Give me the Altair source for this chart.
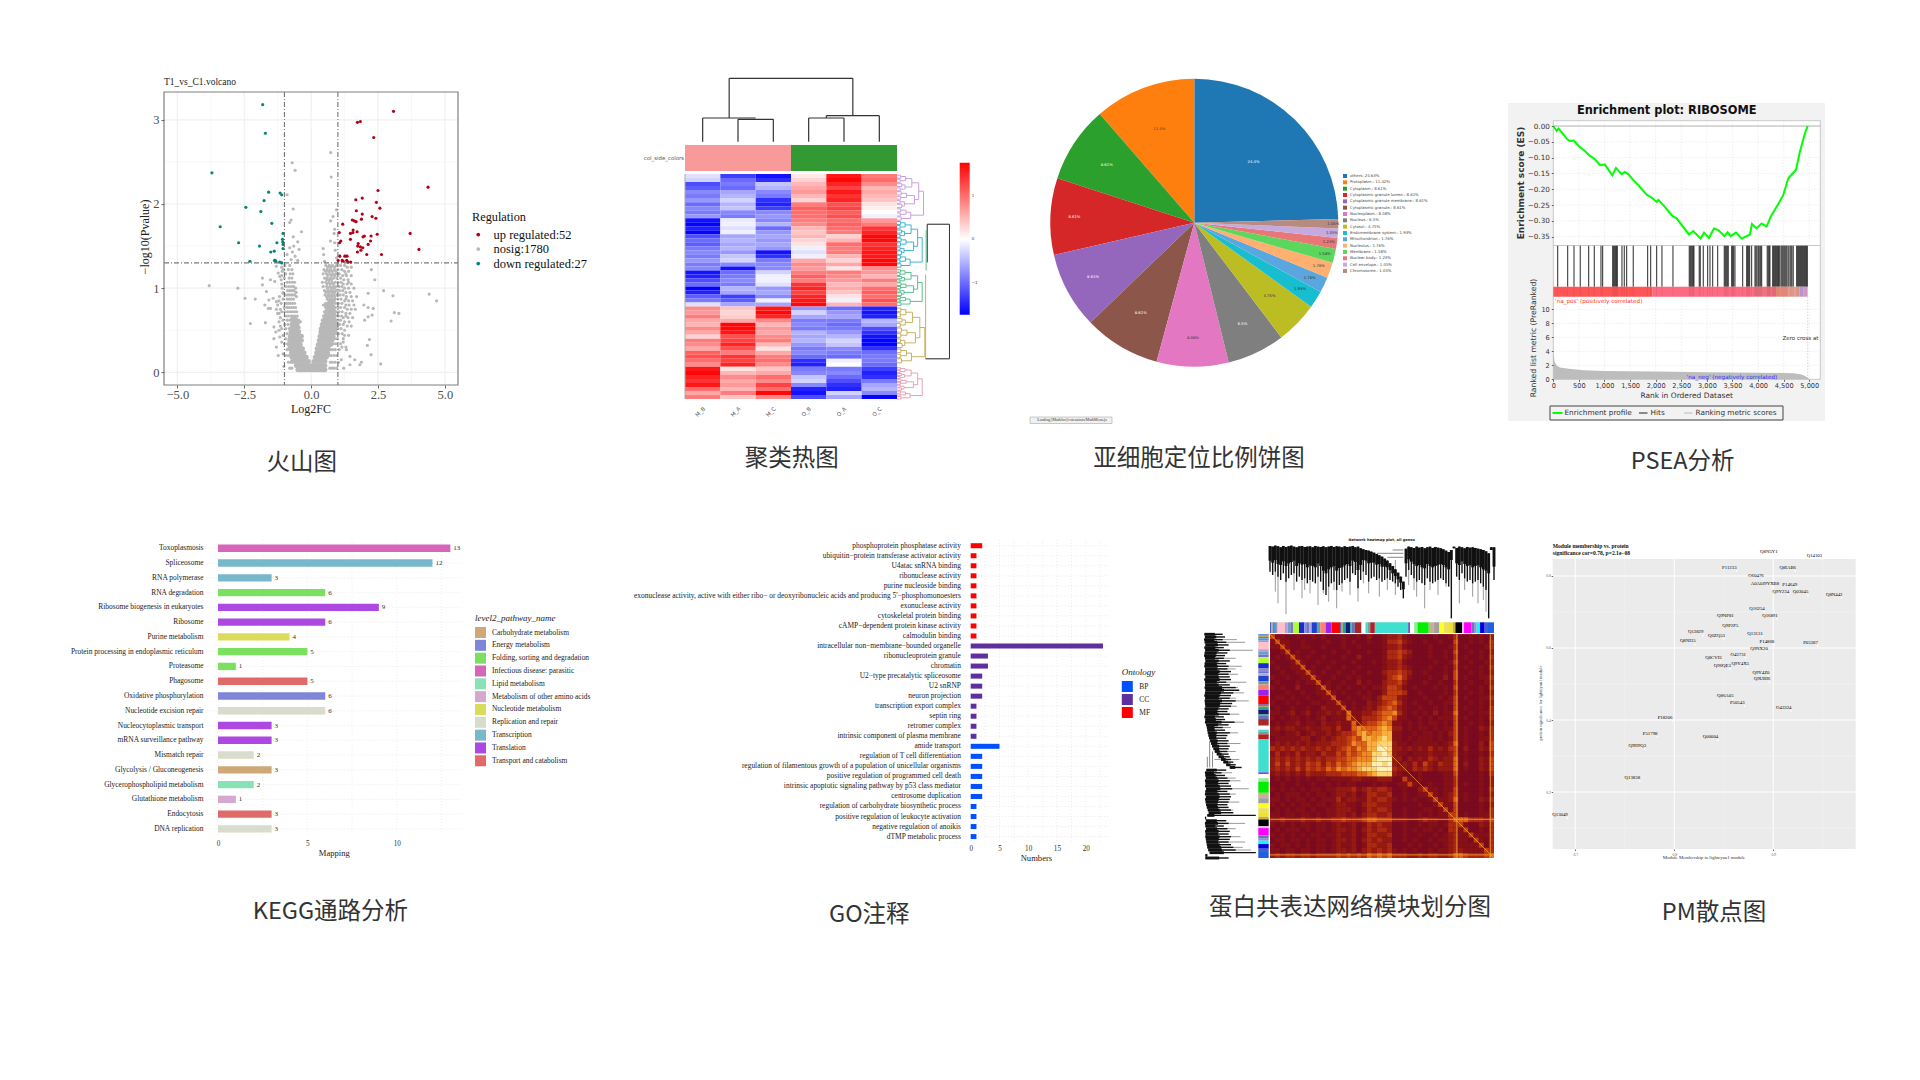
import altair as alt
import pandas as pd

W, H = 1900, 1060
SERIF, SANS, CJK = "Liberation Serif", "DejaVu Sans", "Noto Sans CJK SC"
ONE = alt.Data(values=[{"a": 1}])

# ---------- volcano ----------
up_x = [3.08,1.73,1.84,2.34,4.37,2.50,1.91,1.67,2.44,2.57,1.69,1.91,2.28,2.42,1.88,1.54,1.61,1.68,1.18,1.05,1.72,1.57,1.56,1.47,2.47,3.70,1.94,1.99,2.24,1.47,1.11,1.06,2.22,2.13,1.76,1.74,1.84,1.93,1.86,1.73,4.03,2.63,2.08,1.07,1.26,1.34,1.01,1.16,1.33,1.38,1.48,1.20]
up_y = [3.10,2.97,2.98,2.79,2.20,2.16,2.07,2.05,2.02,1.95,1.92,1.88,1.85,1.83,1.82,1.81,1.80,1.79,1.76,1.66,1.67,1.69,1.66,1.65,1.64,1.65,1.61,1.62,1.62,1.58,1.56,1.54,1.56,1.52,1.53,1.50,1.49,1.48,1.45,1.43,1.46,1.40,1.40,1.38,1.38,1.38,1.33,1.33,1.33,1.31,1.31,1.32]
down_x = [-1.81,-1.71,-3.71,-1.59,-1.16,-1.10,-1.76,-2.44,-1.88,-1.47,-3.40,-1.05,-1.07,-2.71,-1.28,-1.93,-1.05,-1.05,-1.51,-1.38,-2.29,-1.37,-1.32,-1.17,-1.34,-1.06,-1.10]
down_y = [3.18,2.84,2.37,2.14,2.13,2.11,2.04,1.96,1.91,1.77,1.73,1.65,1.58,1.54,1.54,1.50,1.52,1.47,1.43,1.44,1.32,1.33,1.32,1.31,1.33,1.55,1.30]
sparse_x = [.73,-.71,-.60,.75,-.90,-.67,.95,.82,.73,-.75,-.80,-.36,.88,.86,.72,.88,-.67,-.5,-.65,-.8,-.45,-.7,-.6,-.5,-.75,-.9,.45,.47,.5,.9,.95,-3.81,-2.74,-2.47,-2.09,-2.27,-1.71,2.71,3.06,4.41,4.69,3.11,3.28,2.99,2.6,2.24,2.1,2.18,2.38,2.25,2.13,1.97,2.13,2.32,2.28,2.13,2.0,1.82,1.88,1.63,1.45,1.32,1.45,1.13,1.22,-1.82,-1.82,-1.52,-1.67,-1.58,-1.73,-1.6,-1.52,-1.42,-1.3,-1.39,-1.32,-1.39,-1.3,-1.23,-1.05,-1.02,-1.17,-1.2,-1.05,-1.17,-1.3,-1.05,-1.36,-1.23]
sparse_y = [2.61,2.49,2.40,2.32,2.11,1.94,1.93,1.85,1.80,1.81,1.78,1.67,1.70,1.65,1.56,1.54,1.61,1.55,1.5,1.48,1.46,1.43,1.38,1.33,1.34,1.4,1.47,1.40,1.32,1.45,1.36,1.03,1.0,.88,.87,.58,.59,.97,.91,.93,.85,.71,.70,.61,.1,.21,.32,.39,1.1,1.22,.94,.8,.77,.76,.68,.66,.62,.09,.12,.15,.19,.27,.09,.15,.05,1.12,1.04,1.1,.96,.86,.8,.76,.76,.88,.84,.54,.48,.4,.3,.2,.22,.07,.42,.7,.94,1.14,1.26,1.22,1.08,1.18]
arm_rows = {
.05:[-.8,-.72,.7,.78,.85,.95],.12:[-.85,-.75,.72,.8,.9,1.02],.2:[-.95,-.85,-.75,-.68,.68,.75,.85,.95],
.27:[-.9,-.8,-.7,.72,.8,.9,1.05],.34:[-1.0,-.88,-.76,-.7,.74,.84,.92,1.1],.4:[-.95,-.82,-.72,-.68,.8,.88,.98,1.2],
.46:[-.9,-.78,-.7,-.64,.78,.86,.94,1.02,1.16],.52:[-1.1,-.95,-.82,-.72,-.62,-.55,.34,.82,.9,1.0,1.12],
.57:[-.98,-.86,-.74,-.66,-.58,-.5,.38,.8,.88,.96,1.06,1.2],.62:[-1.05,-.9,-.8,-.7,-.62,-.54,-.46,.42,.8,.9,1.0,1.1],
.67:[-.95,-.85,-.75,-.68,-.6,-.52,.46,.76,.84,.92,1.02,1.14,1.3],.72:[-1.1,-.98,-.88,-.78,-.7,-.62,-.54,.5,.58,.78,.86,.94,1.04,1.16],
.77:[-1.0,-.9,-.82,-.74,-.66,-.58,.54,.62,.7,.8,.9,1.0,1.1,1.25],.82:[-1.12,-.94,-.86,-.78,-.7,-.62,.55,.63,.72,.82,.92,1.02,1.15],
.87:[-1.05,-.9,-.82,-.74,-.66,.6,.7,.8,.9,1.0,1.12,1.3],.92:[-.96,-.86,-.78,-.7,-.62,.52,.64,.74,.84,.96,1.08,1.2],
.97:[-.88,-.8,-.72,-.64,.5,.62,.72,.82,.94,1.06,1.18],1.02:[-.95,-.84,-.74,-.66,.45,.58,.7,.82,.92,1.04,1.15],
1.07:[-.9,-.8,-.7,-.62,.42,.55,.66,.78,.9,1.0,1.12,1.4],1.12:[-1.0,-.82,-.72,.5,.6,.72,.84,.96,1.1],
1.17:[-.95,-.78,-.68,.45,.58,.7,.82,.94,1.05,1.3],1.22:[-1.02,-.85,-.72,.48,.6,.72,.86,1.0,1.15],1.27:[-.98,-.8,.55,.68,.8,.95,1.1,1.25]}
arm_rows2 = {
.3:[1.15,1.3],.36:[1.2,-1.1],.44:[1.25,1.4,-1.05],.5:[1.25,-1.2],.55:[1.35,1.5,-1.15],.6:[1.25,1.42,-1.2,.55,.62,.7,-.4],
.65:[1.2,1.38,1.55,-1.15,.55,.62,.68],.7:[1.3,1.45,-1.25,.66,.72],.75:[1.35,1.5,1.65,-1.15,-1.3,.66,.74],.8:[1.3,1.42,1.6,-1.25,.46,.52,.6,.68,.75],
.85:[1.25,1.4,1.55,-1.2,.66,.76,.86],.9:[1.32,1.5,1.7,-1.18,-.55,.58,.68,.78,.88],.95:[1.3,1.45,-1.05,-.56,.56,.66,.78,.88],1.0:[1.25,1.4,1.6,-1.08,-.58,.62,.76,.88],
1.05:[1.2,1.35,1.5,-1.1,.6,.72,.84],1.1:[1.22,1.38,-1.12,.58,.66,.76],1.15:[1.18,1.32,1.5,-1.1,.62,.76,.88],1.2:[1.25,1.4,-1.08,.54,.66,.78,.92],1.25:[1.35,1.5,-1.1,.62,.74,.88]}
core_rows = {
.03:[-.5,-.44,-.38,-.32,-.26,-.2,-.14,-.08,-.02,.04,.1,.16,.22,.28,.34,.4,.46,.52],
.08:[-.56,-.5,-.44,-.38,-.32,-.26,-.2,-.14,-.08,-.02,.04,.1,.16,.22,.28,.34,.4,.46,.52],
.13:[-.7,-.64,-.58,-.52,-.46,-.4,-.34,-.28,-.22,-.16,-.1,.1,.16,.22,.28,.34,.4,.46,.52],
.18:[-.72,-.66,-.6,-.54,-.48,-.42,-.36,-.3,-.24,-.18,.15,.21,.27,.33,.39,.45,.51,.57],
.23:[-.74,-.68,-.62,-.56,-.5,-.44,-.38,-.32,-.26,.2,.26,.32,.38,.44,.5,.56,.62],
.28:[-.8,-.74,-.68,-.62,-.56,-.5,-.44,-.38,-.32,.22,.28,.34,.4,.46,.52,.58,.64],
.33:[-.82,-.76,-.7,-.64,-.58,-.52,-.46,-.4,.26,.32,.38,.44,.5,.56,.62,.68,.74],
.38:[-.8,-.74,-.68,-.62,-.56,-.5,-.44,-.36,.3,.36,.42,.48,.54,.6,.66,.72,.78],
.43:[-.78,-.72,-.66,-.6,-.54,-.48,-.42,-.36,.33,.39,.45,.51,.57,.63,.7,.76,.82],
.48:[-.76,-.7,-.64,-.58,-.52,-.46,.36,.42,.48,.54,.6,.66,.72,.78,.84,.9],
.53:[-.72,-.66,-.6,-.54,-.48,.4,.46,.52,.58,.64,.7,.76,.82,.88,.94],
.58:[-.7,-.64,-.58,-.52,.44,.5,.56,.62,.68,.74,.8,.86,.92],
.63:[-.7,-.64,-.58,.5,.56,.62,.68,.74,.8,.86],.68:[.56,.62,.68,.74,.8,.86],.73:[.6,.66,.72,.78,.84],.78:[.64,.7,.76,.82],.83:[.72,.78]}
reg_names = ["up regulated:52", "nosig:1780", "down regulated:27"]
reg_colors = ["#b2001a", "#b8b8b8", "#00897b"]

# ---------- clustered heatmap ----------
heat_cols = ["M_B","M_A","M_C","O_B","O_A","O_C"]
heat_vals = [
[-.2,-.3,-1.2,-1.1,-.8,-.9,-.7,-1.0,-.8,-.9,-.7,-1.6,-1.7,-1.5,-1.7,-1.2,-1.0,-1.1,-.9,-.8,-.9,-.7,-.9,-.8,-1.6,-1.5,-1.2,-1.0,-1.7,-1.5,-1.1,-.9,-.2,
 .8,.7,.9,.6,.5,.8,.6,.3,.9,.8,.6,1.1,1.2,1.0,.8,1.6,1.7,1.5,1.4,1.6,1.0,.6,.9],
[-1.3,-1.0,-.9,-1.0,-.6,-.5,-.3,-.5,-.4,-.8,-.9,-.15,-.1,-.2,-.1,-.6,-.5,-.6,-.5,-.7,-.4,-.3,-.8,-1.6,-1.0,-.9,-.8,-.9,-.5,-.6,-1.3,-1.1,-.6,
 .4,.3,.35,.6,1.7,1.7,1.6,1.2,1.3,1.5,1.2,.9,1.4,1.3,1.5,.2,.5,.8,.6,.7,.5,.9,.4],
[-1.6,-1.4,-.4,-.5,-.8,-.9,-1.4,-1.5,-1.3,-.8,-.7,-.8,-.5,-1.0,-.7,-.6,-.7,-.6,-.7,-1.6,-1.4,-.9,-.8,-.8,-.3,-.1,-.1,-.2,-.7,-.6,-.8,-.1,-.6,
 1.6,1.7,1.5,.8,.5,.7,.6,.8,.9,.5,.2,.6,.9,1.0,.8,.4,.6,1.0,.8,1.3,1.0,1.7,.8],
[.15,.3,.5,.6,.7,.5,.3,.9,1.1,1.0,1.0,.9,.8,.5,.4,.5,.3,.2,-.1,-.2,-.1,.6,.8,.7,.9,1.1,.9,1.4,1.5,1.3,1.5,1.6,1.7,
 -.7,-.3,-.6,-.9,-.8,-.9,-.5,-.6,-.5,-.7,-.9,-.8,-1.0,-1.4,-1.5,-.9,-.8,-.4,-.3,-.8,-1.5,-1.6,-1.2],
[1.6,1.7,1.5,1.3,1.6,1.4,1.5,1.2,1.3,1.1,1.2,1.0,1.1,1.0,.9,.3,.5,1.0,.9,.9,.5,.3,.6,.2,.9,.8,.7,.5,.6,.4,.2,-.1,.5,
 -1.0,-.7,-.6,-.9,-1.0,-.9,-.7,-.5,-.3,-.4,-.8,-.9,-1.0,-.1,.0,-.9,-.8,-1.0,-1.2,-1.4,-1.5,-.3,-.6],
[.9,1.0,.8,.5,.6,.5,.4,.2,.1,.0,-.1,.7,.9,1.4,1.5,1.7,1.7,1.4,1.5,1.6,1.6,1.7,1.7,.8,.7,.5,.9,.6,1.0,1.1,1.0,1.2,1.0,
 -1.5,-1.6,-1.5,-.5,-.6,-1.2,-1.4,-1.6,-1.7,-1.7,-1.4,-1.0,-.9,-.9,-1.0,-1.3,-1.5,-1.4,-.9,-.6,-.5,-.8,-1.7]]
top_tree = [(1.25,4.75,100,100),(1.25,1.25,37.4,100),(4.75,4.75,41,100),(.5,2.0,37.4,37.4),(.5,.5,0,37.4),(1.5,2.5,35.3,35.3),(1.5,1.5,0,35.3),(2.5,2.5,0,35.3),
            (4.0,5.5,41,41),(5.5,5.5,0,41),(3.5,4.5,37.4,37.4),(3.5,3.5,0,37.4),(4.5,4.5,0,37.4),(4.0,4.0,37.4,41)]
bracket_pat = [(0.3,1.0,7,0,0),(1.2,2.0,6,0,0),(2.3,3.0,9,0,0),(3.3,4.0,6,0,0),(4.2,5.0,8,0,0),(5.3,6.0,7,0,0),(6.3,7.0,6,0,0),(7.2,8.0,9,0,0),(8.3,9.0,7,0,0),(9.3,10.0,6,0,0),(10.2,11.0,8,0,0),
 (0.6,1.6,16,7,6),(2.6,3.6,15,9,6),(4.6,5.6,18,8,7),(6.6,7.6,14,6,9),(8.6,9.6,17,7,6),
 (1.1,3.1,28,16,15),(5.1,7.1,33,18,14),(9.1,10.6,26,17,8),(2.1,6.1,41,28,33),(4.1,9.8,50,41,26)]
row_clusters = [("#c9a0e0",0,11.5,1.0),("#40b5d0",11.5,23.2,.95),("#5cc090",23.6,32.7,.95),("#c8b060",33,47,1.05),("#e8a0b8",48,56,.95)]
row_links = [(12.5,22,57,"#222222"),(12.5,46,99,"#333333"),(25,46,54,"#c8b060"),(14,24,55,"#5cc090")]
row_caps = [(12.5,99,57,"#222222"),(46,99,54,"#222222")]

# ---------- pie ----------
pie_names = ["others","Protoplasm.","Cytoplasm.","Cytoplasmic granule lumen.","Cytoplasmic granule membrane.","Cytoplasmic granule.","Nucleoplasm.","Nucleus.","Cytosol.","Endomembrane system.","Mitochondrion.","Nucleolus.","Membrane.","Nuclear body.","Cell envelope.","Chromosome."]
pie_vals = [24.63,11.42,8.61,8.61,8.61,8.61,8.08,6.5,4.75,1.93,1.76,1.76,1.58,1.23,1.05,1.05]
pie_colors = ["#1f77b4","#ff7f0e","#2ca02c","#d62728","#9467bd","#8c564b","#e377c2","#7f7f7f","#bcbd22","#17becf","#5aa7e0","#ffb070","#5cd65c","#e87878","#c5aadf","#b88a80"]
pie_slice_order = [0,15,14,13,12,11,10,9,8,7,6,5,4,3,2,1]
pie_text = ["24.4%","11.4%","8.61%","8.61%","8.61%","8.61%","8.08%","6.5%","4.75%","1.93%","1.76%","1.76%","1.58%","1.23%","1.05%","1.05%"]
pie_text_r = [85,100,105,120,115,105,115,112,105,125,128,132,134,136,138,139]
pie_text_c = ["#ffffff","#444444","#ffffff","#ffffff","#ffffff","#ffffff","#333333","#ffffff","#333333","#333333","#333333","#333333","#333333","#333333","#333333","#333333"]

# ---------- GSEA ----------
es_rank = [0,65,104,163,273,325,397,521,618,697,814,911,1009,1152,1224,1335,1400,1465,1562,1660,1823,1920,2018,2051,2148,2331,2409,2650,2734,2877,2943,3040,3138,3222,3340,3405,3463,3567,3678,3776,3841,3880,3971,4069,4166,4251,4401,4492,4590,4739,4817,4915,4967]
es_val = [0,-.015,-.008,-.02,-.042,-.047,-.046,-.067,-.079,-.092,-.105,-.123,-.122,-.156,-.133,-.152,-.145,-.152,-.171,-.187,-.217,-.226,-.24,-.234,-.25,-.285,-.292,-.343,-.332,-.356,-.337,-.354,-.324,-.329,-.348,-.336,-.348,-.337,-.356,-.348,-.343,-.31,-.324,-.308,-.318,-.285,-.245,-.218,-.165,-.139,-.081,-.023,0]
hits = [85,280,404,527,690,801,931,963,1159,1178,1198,1217,1237,1250,1341,1387,1432,1562,1842,1901,2018,2122,2337,2656,2676,2695,2715,2734,2747,2851,2871,2930,3014,3060,3112,3210,3340,3360,3379,3399,3418,3483,3502,3522,3548,3698,3776,3795,3815,3834,3873,3939,3958,3978,4004,4023,4049,4069,4179,4199,4218,4231,4284,4303,4323,4342,4362,4381,4401,4414,4446,4466,4485,4505,4524,4544,4563,4590,4622,4642,4661,4687,4752,4772,4791,4811,4830,4850,4869,4889,4908,4928,4948,4961]
strip_start = [0,1930,3900,4350,4600,4810,4890]
strip_end = [1930,3900,4350,4600,4810,4890,4967]
strip_color = ["#ff5555","#ff6a80","#f0707f","#f09080","#e8a090","#c0a0e0","#e0a0d0"]
metric_rank = [0,25,60,130,300,600,1000,2000,3000,4000,4500,4700,4850,4960,5000]
metric_val = [4.2,2.5,2.0,1.7,1.5,1.3,1.2,1.1,1.0,.95,.9,.85,.7,.3,0]

# ---------- KEGG ----------
kegg_names = ["Toxoplasmosis","Spliceosome","RNA polymerase","RNA degradation","Ribosome biogenesis in eukaryotes","Ribosome","Purine metabolism","Protein processing in endoplasmic reticulum","Proteasome","Phagosome","Oxidative phosphorylation","Nucleotide excision repair","Nucleocytoplasmic transport","mRNA surveillance pathway","Mismatch repair","Glycolysis / Gluconeogenesis","Glycerophospholipid metabolism","Glutathione metabolism","Endocytosis","DNA replication"]
kegg_vals = [13,12,3,6,9,6,4,5,1,5,6,6,3,3,2,3,2,1,3,3]
kegg_group = ["Infectious disease: parasitic","Transcription","Transcription","Folding, sorting and degradation","Translation","Translation","Nucleotide metabolism","Folding, sorting and degradation","Folding, sorting and degradation","Transport and catabolism","Energy metabolism","Replication and repair","Translation","Translation","Replication and repair","Carbohydrate metabolism","Lipid metabolism","Metabolism of other amino acids","Transport and catabolism","Replication and repair"]
kegg_domain = ["Carbohydrate metabolism","Energy metabolism","Folding, sorting and degradation","Infectious disease: parasitic","Lipid metabolism","Metabolism of other amino acids","Nucleotide metabolism","Replication and repair","Transcription","Translation","Transport and catabolism"]
kegg_colors = ["#d0a878","#7f85d9","#7be05f","#d566ba","#88e2b4","#d3a9cf","#dcdc5b","#d8dccc","#78b8cb","#ad49e0","#df6a68"]

# ---------- GO ----------
go_names = ["phosphoprotein phosphatase activity","ubiquitin\u2212protein transferase activator activity","U4atac snRNA binding","ribonuclease activity","purine nucleoside binding","exonuclease activity, active with either ribo\u2212 or deoxyribonucleic acids and producing 5'\u2212phosphomonoesters","exonuclease activity","cytoskeletal protein binding","cAMP\u2212dependent protein kinase activity","calmodulin binding","intracellular non\u2212membrane\u2212bounded organelle","ribonucleoprotein granule","chromatin","U2\u2212type precatalytic spliceosome","U2 snRNP","neuron projection","transcription export complex","septin ring","retromer complex","intrinsic component of plasma membrane","amide transport","regulation of T cell differentiation","regulation of filamentous growth of a population of unicellular organisms","positive regulation of programmed cell death","intrinsic apoptotic signaling pathway by p53 class mediator","centrosome duplication","regulation of carbohydrate biosynthetic process","positive regulation of leukocyte activation","negative regulation of anoikis","dTMP metabolic process"]
go_vals = [2,1,1,1,1,1,1,1,1,1,23,3,3,2,2,2,1,1,1,1,5,2,2,2,2,2,1,1,1,1]
go_group = ["MF"]*10 + ["CC"]*10 + ["BP"]*10
go_domain = ["BP","CC","MF"]
go_colors = ["#0050ff","#5e2f9e","#ff0000"]

# ---------- WGCNA ----------
mod_colors = ["#3a5fcd","#c8a050","#7b68ee","#40a0d0","#8a9ac8","#ffc0cb","#b0a0d0","#6aa0c8","#7a70c8","#adff2f","#1a2ad0","#8888cc","#6a70c8","#aaaadd","#2040d0","#60a0a0","#fa8072","#a020f0","#ff0000","#2a50c0","#c0a060","#20a0a0","#191970","#20a0b0","#6a70b0","#a82828","#ffffff","#40d8c8","#70a0a0","#b22222","#40e0d0","#6a5acd","#ffffff","#90ee90","#00ee00","#c8b090","#a0a0a0","#ffff20","#e8e060","#f0e030","#c0b040","#000000","#ddbbee","#ff00ff","#7070c0","#9a90d0","#00ffff","#0000dd","#4060d0","#2060e0"]
mod_widths = [4,4,4,6,5,22,8,8,8,18,16,8,6,8,16,10,16,18,26,4,4,8,14,4,10,20,12,6,8,14,100,6,12,10,34,16,16,14,12,14,8,20,6,22,8,8,10,14,10,18]
dg_top = [18,20,17,19,22,18,21,19,17,20,22,19,18,21,20,19,22,18,20,21,19,22,20,18,21,19,20,22,19,21,20,18,22,20,25,28,30,32,35,38,42,46,50,56,62,70,78,88,98,110,125,26,20,22,24,20,23,21,25,22,20,24,21,23,25,28,32,36,30,20,24,20,22,25,21,23,22,24,26,28,30,34,40,22,22]
dg_mid = [62,68,60,72,75,64,78,70,66,62,78,70,74,72,82,76,78,82,70,78,92,100,88,82,78,92,84,82,76,72,78,62,66,90,
 75,60,62,70,68,68,74,72,80,80,82,90,100,108,118,128,148,
 70,58,65,72,78,75,82,85,72,78,82,78,75,72,75,82,88,60,25,
 70,75,64,72,78,75,82,78,75,82,88,92,100,30,80]
dg_black = [95,105,95,110,120,100,125,115,105,100,125,110,120,115,130,120,125,130,110,125,150,165,140,130,125,150,135,130,120,115,125,100,105,145,120,95,105,125,115,110,120,115,125,120,115,120,125,130,140,150,175,110,90,105,115,125,120,130,135,115,125,130,125,120,115,120,130,140,235,25,110,120,100,115,125,120,130,125,120,130,140,150,235,30,120]
dg_tail_i = [2,3,6,9,12,13,15,18,20,22,24,25,27,30,33,35,37,41,44,47,52,54,55,58,60,63,66,71,73,76,78,80,81]
dg_tail_end = [155,190,222,150,175,150,160,195,160,185,150,205,155,165,185,130,160,170,150,165,135,150,170,205,150,165,140,190,150,170,190,180,215]
dg_link_from = [40,44,46]
dg_link_to = [50,50,50]
dg_link_depth = [40,52,30]
tom_rows = [
"4110010010 1000100102 0012231000 0010013001 0102","1411001000 0100101001 0013342100 1001004001 0103",
"1141001100 1000100100 0012231000 0100013010 0013","0014010010 0010010001 0013343200 0100104001 0102",
"0101410100 1000100200 0013342100 0100103010 0103","1000141001 0010001000 1012231000 0010014001 0012",
"0100114010 0100100100 0012232100 0100103010 0103","0010011410 1001001001 0023343200 1000104001 0102",
"1001001141 0010010100 0013453100 0100204010 0113","0100010114 0100100201 0023342000 1001003001 0012",
"1010020001 4101010010 1124431010 0010104010 0103","0001001001 1410100101 0024443001 0000103001 0102",
"0110100100 1140010011 0244421000 1001014010 0113","1001010011 0114101002 1234531010 0100114001 0102",
"0100100100 2111401012 1345421001 0010104010 0103","1101201201 1212151122 3455631010 1020115001 0113",
"1010110101 2011152133 3456411001 0101114010 0103","0101120110 2112115134 4565110101 0110104001 0102",
"1212211211 2213115655 5676220101 1010114010 0213","1101120121 1212334675 6677110010 1101024010 0103",
"0111112201 2123345477 6787110101 1101014010 0113","1212121212 2233346557 7888211011 1110125010 0204",
"3232323223 2323454657 7998221212 1312134020 0214","1312131221 3224354566 8898211011 1211124010 0103",
"2323232323 2334455666 8999220212 1321225010 0214","2424232434 2435456777 9989212131 4213225020 0214",
"2323242434 3546566788 8999322132 3212225010 0214","1212121322 2333444556 7888210001 0000114000 0103",
"0101010101 1011112211 1222004101 0000113000 0102","0010010010 0101011000 1010011410 0100113010 0102",
"1010101011 0112223123 2332001002 4110114000 0103","0101110101 1012212013 3223001001 1410124010 0102",
"1101011010 1113122113 2332101010 0141125010 0213","1010101101 1012211023 3222000001 0014114000 0102",
"0101011010 0112221013 2332001000 1101414000 0103","1101101101 0112212023 3223001001 0101144010 0113",
"2232223223 2233433345 5444222112 3221135553 3324","1010101101 1012112013 2322001001 0110133410 0213",
"0101110101 1012212023 2332001010 1101033140 0103","1010101011 0112112013 3223001001 0010123114 1113",
"0110110101 1012212023 2322001010 0101123110 4103","1011010101 1012112013 3223000101 0010123111 1403",
"1101101101 1012212023 2323101010 0101123211 1143","2323323323 3334343435 4545333223 2332235543 3345"]
tom_colors = ["#7a0a20","#851018","#951a12","#ac2a10","#c44010","#dc6414","#ee8a20","#f8b03c","#fcd670","#fff2b8"]

# ---------- PM scatter ----------
pm_names = ["Q8N5Y1","Q14103","P11233","Q8IAB6","O60476","A0A0J9YXB8","P14649","Q9Y234","Q03045","Q8N442","Q16254","Q9NP81","Q16891","Q9P2P5","Q13829","Q6ZQ53","Q13131","Q8NI35","P14868","P05387","Q9NX20","O43731","Q8CVI3","Q9Y4X5","Q96QE3","Q9Y4Z0","Q9UBI6","Q86A05","P50543","O43324","P18206","P51798","Q00004","Q9H9Q3","Q13838","Q13049"]
pm_x = [.903,.949,.863,.922,.890,.899,.924,.915,.935,.969,.891,.859,.904,.864,.829,.850,.889,.821,.901,.945,.893,.872,.847,.874,.856,.895,.896,.859,.871,.918,.798,.783,.844,.770,.765,.692]
pm_y = [.859,.848,.814,.814,.792,.769,.768,.748,.746,.740,.701,.681,.680,.653,.635,.626,.631,.610,.609,.606,.590,.573,.563,.546,.542,.522,.506,.459,.439,.426,.397,.354,.344,.320,.230,.128]

# ---------- helpers ----------
def sx(dom, p0, p1):
    return alt.Scale(domain=dom, range=[p0 - 8, p1 - 8], nice=False, zero=False)
def ax_b(py, **kw):
    return alt.Axis(orient="bottom", offset=py - 8 - H, title=None, grid=False, zindex=1, **kw)
def ax_l(px, **kw):
    return alt.Axis(orient="left", offset=-(px - 8), title=None, grid=False, zindex=1, **kw)
def T(text, x, y, size, font=SERIF, color="#222222", align="center", angle=0, weight="normal", style="normal"):
    return alt.Chart(ONE).mark_text(text=text, font=font, fontSize=size, color=color, align=align, baseline="middle", angle=angle, fontWeight=weight, fontStyle=style).encode(x=alt.value(x - 8), y=alt.value(y - 8))
def box(x0, y0, x1, y1, **mk):
    return alt.Chart(ONE).mark_rect(**mk).encode(x=alt.value(x0 - 8), x2=alt.value(x1 - 8), y=alt.value(y0 - 8), y2=alt.value(y1 - 8))
def hline(x0, x1, y, **mk):
    return alt.Chart(ONE).mark_rule(**mk).encode(x=alt.value(x0 - 8), x2=alt.value(x1 - 8), y=alt.value(y - 8))
def vrules(vals, scale, y0, y1, **mk):
    return alt.Chart(pd.DataFrame({"v": vals})).mark_rule(**mk).encode(x=alt.X("v:Q", scale=scale, axis=None), y=alt.value(y0 - 8), y2=alt.value(y1 - 8))
def hrules(vals, scale, x0, x1, **mk):
    return alt.Chart(pd.DataFrame({"v": vals})).mark_rule(**mk).encode(y=alt.Y("v:Q", scale=scale, axis=None), x=alt.value(x0 - 8), x2=alt.value(x1 - 8))
def segs(df, xscale, yscale, **mk):
    return alt.Chart(df).mark_rule(**mk).encode(
        x=alt.X("x1:Q", scale=xscale, axis=None), x2="x2:Q",
        y=alt.Y("y1:Q", scale=yscale, axis=None), y2="y2:Q",
        color=alt.Color("c:N", scale=None))

L = []

# ---- volcano ----
vx = sx([-5.5, 5.49], 164, 458)
vy = sx([-0.15, 3.33], 385, 92)
L += [vrules([-3.75,-1.25,1.25,3.75], vx, 92, 385, color="#f5f5f5", strokeWidth=.7),
      vrules([-5,-2.5,0,2.5,5], vx, 92, 385, color="#f0f0f0", strokeWidth=1.2),
      hrules([.5,1.5,2.5], vy, 164, 458, color="#f5f5f5", strokeWidth=.7),
      hrules([0,1,2,3], vy, 164, 458, color="#f0f0f0", strokeWidth=1.2)]
core = pd.DataFrame([{"x": x, "y": y} for y, xs in core_rows.items() for x in xs])
L.append(alt.Chart(core).mark_circle(size=24, color=reg_colors[1], opacity=1).encode(
    x=alt.X("x:Q", scale=vx, axis=None), y=alt.Y("y:Q", scale=vy, axis=None)))
vol = [{"x": x, "y": y, "k": reg_names[1]} for rows_ in (arm_rows, arm_rows2) for y, xs in rows_.items() for x in xs]
vol += [{"x": x, "y": y, "k": reg_names[1]} for x, y in zip(sparse_x, sparse_y)]
vol += [{"x": x, "y": y, "k": reg_names[0]} for x, y in zip(up_x, up_y)]
vol += [{"x": x, "y": y, "k": reg_names[2]} for x, y in zip(down_x, down_y)]
L.append(alt.Chart(pd.DataFrame(vol)).mark_circle(size=10, opacity=1).encode(
    x=alt.X("x:Q", scale=vx, axis=ax_b(385, values=[-5,-2.5,0,2.5,5], format=".1f", domain=False, labelFont=SERIF, labelFontSize=12.5, labelColor="#4d4d4d", tickColor="#666666", tickSize=3, labelPadding=0)),
    y=alt.Y("y:Q", scale=vy, axis=ax_l(164, values=[0,1,2,3], format="d", domain=False, labelFont=SERIF, labelFontSize=12.5, labelColor="#4d4d4d", tickColor="#666666", tickSize=3, labelPadding=2)),
    color=alt.Color("k:N", scale=alt.Scale(domain=reg_names, range=reg_colors),
        legend=alt.Legend(orient="none", legendX=464, legendY=203, title="Regulation", titleFont=SERIF, titleFontSize=12.3, titleFontWeight="normal", titleColor="#111111",
            labelFont=SERIF, labelFontSize=12.5, labelColor="#111111", symbolSize=14, symbolType="circle", rowPadding=1.5, labelOffset=9, titlePadding=5))))
L += [vrules([-1, 1], vx, 92, 385, color="#666666", strokeDash=[5,2,1,2], strokeWidth=1),
      hrules([1.3], vy, 164, 458, color="#555555", strokeDash=[5,2,1,2], strokeWidth=1),
      box(164, 92, 458, 385, fill="transparent", stroke="#7f7f7f", strokeWidth=1.2),
      T("T1_vs_C1.volcano", 164, 82, 9.5, align="left"),
      T("Log2FC", 311, 408.5, 12),
      T("\u2212log10(Pvalue)", 145, 237, 12, angle=270)]

# ---- clustered heatmap ----
hx = sx([0, 6], 685, 897)
hy = sx([0, 56], 174, 399)
L.append(alt.Chart(pd.DataFrame({"x": [0,3], "x2": [3,6], "c": ["#f99a9a", "#339933"]})).mark_rect().encode(
    x=alt.X("x:Q", scale=hx, axis=None), x2="x2:Q", y=alt.value(145 - 8), y2=alt.value(171 - 8), color=alt.Color("c:N", scale=None)))
hm = pd.DataFrame([{"x": i, "x2": i + 1, "y": r, "y2": r + 1, "v": v} for i, col in enumerate(heat_vals) for r, v in enumerate(col)])
L.append(alt.Chart(hm).mark_rect().encode(
    x=alt.X("x:Q", scale=hx, axis=None), x2="x2:Q", y=alt.Y("y:Q", scale=hy, axis=None), y2="y2:Q",
    color=alt.Color("v:Q", scale=alt.Scale(domain=[-1.72, 0, 1.75], range=["#0000ff", "#ffffff", "#ff0000"], interpolate="rgb"),
        legend=alt.Legend(orient="none", legendX=951.7, legendY=154.7, title=None, gradientLength=152, gradientThickness=10, values=[-1, 0, 1], labelFontSize=4, labelFont=SANS, labelColor="#444444", direction="vertical", gradientStrokeColor="#aaaaaa"))))
L.append(vrules([0], hx, 174, 399, color="#aaaaaa", strokeWidth=1))
tt = pd.DataFrame(top_tree, columns=["x1", "x2", "y1", "y2"]); tt["c"] = "#333333"
L.append(segs(tt, hx, sx([0, 100], 141.7, 78.3), strokeWidth=1.2))
rdx = sx([0, 100], 897, 950)
rows = []
for c, a, b, f in row_clusters:
    k = (b - a) / 11.0
    for y1, y2, d, c1, c2 in bracket_pat:
        ya, yb = a + y1 * k, a + y2 * k
        rows += [dict(x1=d*f, x2=d*f, y1=ya, y2=yb, c=c), dict(x1=c1*f, x2=d*f, y1=ya, y2=ya, c=c), dict(x1=c2*f, x2=d*f, y1=yb, y2=yb, c=c)]
for y1, y2, d, c in row_links:
    rows.append(dict(x1=d, x2=d, y1=y1, y2=y2, c=c))
for y, d1, d2, c in row_caps:
    rows.append(dict(x1=d2, x2=d1, y1=y, y2=y, c=c))
L.append(segs(pd.DataFrame(rows), rdx, hy, strokeWidth=1))
L.append(alt.Chart(pd.DataFrame({"x": [.5,1.5,2.5,3.5,4.5,5.5], "t": heat_cols})).mark_text(font=SANS, fontSize=5.5, color="#555555", angle=315, dx=-3.5).encode(
    x=alt.X("x:Q", scale=hx, axis=None), y=alt.value(409.3 - 8), text="t:N"))
L.append(T("col_side_colors", 684, 158.3, 5.4, font=SANS, color="#555555", align="right"))

# ---- pie ----
pie = pd.DataFrame({"name": [f"{n}: {v}%" for n, v in zip(pie_names, pie_vals)], "v": pie_vals, "t": pie_text, "r": pie_text_r, "c": pie_text_c})
pie["ord"] = [pie_slice_order.index(i) for i in range(16)]
total = sum(pie_vals)
angle_mid, run = {}, 0.0
for i in pie_slice_order:
    angle_mid[i] = (run + pie_vals[i] / 2) / total * 6.28318530718
    run += pie_vals[i]
pie["mid"] = [angle_mid[i] for i in range(16)]
L.append(alt.Chart(pie).mark_arc(outerRadius=144).encode(
    x=alt.value(1194.3 - 8), y=alt.value(222.7 - 8), theta=alt.Theta("v:Q", stack=True, scale=alt.Scale(domain=[0, total], range=[0, 6.28318530718])), order=alt.Order("ord:Q"),
    color=alt.Color("name:N", sort=None, scale=alt.Scale(domain=list(pie["name"]), range=pie_colors),
        legend=alt.Legend(orient="none", legendX=1335, legendY=166, title=None, symbolType="square", symbolSize=16, labelFontSize=3.85, labelFont=SANS, labelColor="#444444", rowPadding=2.33, labelOffset=3, labelLimit=200, symbolStrokeWidth=0))))
L.append(alt.Chart(pie).mark_text(font=SANS, fontSize=3.8).encode(
    x=alt.value(1194.3 - 8), y=alt.value(222.7 - 8), theta=alt.Theta("mid:Q", scale=None),
    radius=alt.Radius("r:Q", scale=None), text="t:N", color=alt.Color("c:N", scale=None)))
L += [box(1030, 417, 1112, 423.5, fill="#f0f0f0", stroke="#999999", strokeWidth=.5),
      T("Loading [MathJax]/extensions/MathMenu.js", 1072, 420.3, 3.9, color="#333333")]

# ---- GSEA ----
gx = sx([0, 5215], 1553.3, 1820.3)
gy1 = sx([-.3763, .0169], 245, 120.7)
gy3 = sx([0, 11.8], 379.3, 296.7)
L += [box(1508, 103, 1825, 421, fill="#f2f2f2"),
      box(1553.3, 120.7, 1820.3, 379.3, fill="#ffffff", stroke="#bbbbbb", strokeWidth=.8),
      vrules([500,1000,1500,2000,2500,3000,3500,4000,4500,5000], gx, 120.7, 245, color="#dddddd", strokeDash=[1,2], strokeWidth=.7),
      vrules([500,1000,1500,2000,2500,3000,3500,4000,4500,5000], gx, 296.7, 379.3, color="#dddddd", strokeDash=[1,2], strokeWidth=.7),
      hrules([-.05,-.1,-.15,-.2,-.25,-.3,-.35], gy1, 1553.3, 1820.3, color="#dddddd", strokeDash=[1,2], strokeWidth=.7),
      hrules([2,4,6,8,10], gy3, 1553.3, 1820.3, color="#dddddd", strokeDash=[1,2], strokeWidth=.7),
      hrules([0], gy1, 1553.3, 1820.3, color="#999999", strokeWidth=.8),
      hline(1553.3, 1820.3, 245.5, color="#bbbbbb", strokeWidth=.8)]
L.append(alt.Chart(pd.DataFrame({"x": es_rank, "y": es_val})).mark_line(color="#00ff00", strokeWidth=2).encode(
    x=alt.X("x:Q", scale=gx, axis=None),
    y=alt.Y("y:Q", scale=gy1, axis=ax_l(1553.3, values=[0,-.05,-.1,-.15,-.2,-.25,-.3,-.35], format=".2f", domain=False, labelFont=SANS, labelFontSize=7.2, labelColor="#333333", tickColor="#666666", tickSize=2, labelPadding=2))))
L.append(vrules(hits, gx, 245.7, 286.7, color="#111111", strokeWidth=1.2, opacity=.75))
L.append(alt.Chart(pd.DataFrame({"x": strip_start, "x2": strip_end, "c": strip_color})).mark_rect().encode(
    x=alt.X("x:Q", scale=gx, axis=None), x2="x2:Q", y=alt.value(286.7 - 8), y2=alt.value(296.7 - 8), color=alt.Color("c:N", scale=None)))
L.append(vrules(hits, gx, 286.7, 296.7, color="#222222", strokeWidth=.6, opacity=.12))
L.append(alt.Chart(pd.DataFrame({"x": metric_rank, "y": metric_val})).mark_area(color="#bdbdbd").encode(
    x=alt.X("x:Q", scale=gx, axis=ax_b(379.3, values=list(range(0, 5001, 500)), format=",d", domain=False, labelFont=SANS, labelFontSize=6.6, labelColor="#333333", tickColor="#666666", tickSize=2, labelPadding=1, labelFlush=False)),
    y=alt.Y("y:Q", scale=gy3, axis=ax_l(1553.3, values=[0,2,4,6,8,10], format="d", domain=False, labelFont=SANS, labelFontSize=6.6, labelColor="#333333", tickColor="#666666", tickSize=2, labelPadding=2))))
L += [vrules([4967], gx, 296.7, 379.3, color="#bbbbbb", strokeDash=[1,2], strokeWidth=.8),
      T("Enrichment plot: RIBOSOME", 1666.7, 110.7, 11.4, font=SANS, color="#111111", weight="bold"),
      T("Enrichment score (ES)", 1520.7, 183, 9, font=SANS, color="#333333", angle=270, weight="bold"),
      T("Ranked list metric (PreRanked)", 1534, 338, 7.7, font=SANS, color="#333333", angle=270),
      T("Rank in Ordered Dataset", 1686.7, 396, 7.5, font=SANS, color="#333333"),
      T("'na_pos' (positively correlated)", 1555, 300.7, 5.7, font=SANS, color="#ff3030", align="left"),
      T("'na_neg' (negatively correlated)", 1686.7, 376.7, 5.7, font=SANS, color="#3030ff", align="left"),
      T("Zero cross at", 1818.5, 338.3, 5.5, font=SANS, color="#333333", align="right"),
      box(1550, 406, 1783, 420, fill="#f2f2f2", stroke="#444444", strokeWidth=1),
      hline(1552.5, 1562.5, 413, color="#00ff00", strokeWidth=2),
      T("Enrichment profile", 1564.5, 412.7, 7.3, font=SANS, color="#333333", align="left"),
      hline(1639, 1647.5, 413, color="#444444", strokeWidth=1.2),
      T("Hits", 1650.5, 412.7, 7.3, font=SANS, color="#333333", align="left"),
      hline(1684, 1692.5, 413, color="#cccccc", strokeWidth=1.5),
      T("Ranking metric scores", 1695.5, 412.7, 7.3, font=SANS, color="#333333", align="left")]

# ---- KEGG ----
kx = sx([0, 13.64], 218, 461.8)
ky = alt.Scale(domain=kegg_names, range=[540.9 - 8, 836.3 - 8], paddingInner=.5, paddingOuter=.25)
kdf = pd.DataFrame({"n": kegg_names, "v": kegg_vals, "g": kegg_group})
L.append(alt.Chart(kdf).mark_rule(color="#e2e2e2", strokeDash=[1,2], strokeWidth=.7).encode(
    y=alt.Y("n:N", scale=ky, axis=None, sort=None), x=alt.value(206.4 - 8), x2=alt.value(461.8 - 8)))
L.append(vrules([0,2.5,5,7.5,10,12.5], kx, 540, 836, color="#e8e8e8", strokeDash=[1,2], strokeWidth=.7))
L.append(alt.Chart(kdf).mark_bar().encode(
    x=alt.X("v:Q", scale=kx, stack=None, axis=ax_b(836.3, values=[0,5,10], format="d", domain=False, ticks=False, labelFont=SERIF, labelFontSize=7.2, labelColor="#333333", labelPadding=3, labelFlush=False)),
    y=alt.Y("n:N", scale=ky, sort=None, axis=ax_l(204.7, domain=False, ticks=False, labelFont=SERIF, labelFontSize=7.45, labelColor="#222222", labelPadding=1.7, labelLimit=500, labelOverlap=False)),
    color=alt.Color("g:N", scale=alt.Scale(domain=kegg_domain, range=kegg_colors),
        legend=alt.Legend(orient="none", legendX=467, legendY=606, title="level2_pathway_name", titleFont=SERIF, titleFontSize=9, titleFontStyle="italic", titleFontWeight="normal", titleColor="#222222",
            labelFont=SERIF, labelFontSize=7.45, labelColor="#222222", symbolType="square", symbolSize=121, symbolStrokeWidth=0, rowPadding=1.83, labelOffset=6, labelLimit=300, titlePadding=4))))
L.append(alt.Chart(kdf).mark_text(font=SERIF, fontSize=7, color="#333333", align="left", dx=3).encode(
    x=alt.X("v:Q", scale=kx, axis=None), y=alt.Y("n:N", scale=ky, axis=None, sort=None), text="v:Q"))
L += [box(461.8, 541, 470, 556, fill="#ffffff"), T("Mapping", 334.3, 853, 8.6)]

# ---- GO ----
gox = sx([0, 24.1], 970.7, 1109.3)
goy = alt.Scale(domain=go_names, range=[540.7 - 8, 841.6 - 8], paddingInner=.5, paddingOuter=.25)
gdf = pd.DataFrame({"n": go_names, "v": go_vals, "g": go_group})
L.append(alt.Chart(gdf).mark_rule(color="#e2e2e2", strokeDash=[1,2], strokeWidth=.7).encode(
    y=alt.Y("n:N", scale=goy, axis=None, sort=None), x=alt.value(962.9 - 8), x2=alt.value(1109.3 - 8)))
L.append(vrules([0,2.5,5,7.5,10,12.5,15,17.5,20,22.5], gox, 540, 842, color="#e8e8e8", strokeDash=[1,2], strokeWidth=.7))
L.append(alt.Chart(gdf).mark_bar().encode(
    x=alt.X("v:Q", scale=gox, stack=None, axis=ax_b(841.6, values=[0,5,10,15,20], format="d", domain=False, ticks=False, labelFont=SERIF, labelFontSize=7.2, labelColor="#333333", labelPadding=3, labelFlush=False)),
    y=alt.Y("n:N", scale=goy, sort=None, axis=ax_l(962.1, domain=False, ticks=False, labelFont=SERIF, labelFontSize=7.45, labelColor="#222222", labelPadding=1.7, labelLimit=600, labelOverlap=False)),
    color=alt.Color("g:N", scale=alt.Scale(domain=go_domain, range=go_colors),
        legend=alt.Legend(orient="none", legendX=1113.8, legendY=660, title="Ontology", titleFont=SERIF, titleFontSize=9, titleFontStyle="italic", titleFontWeight="normal", titleColor="#222222",
            labelFont=SERIF, labelFontSize=7.45, labelColor="#222222", symbolType="square", symbolSize=121, symbolStrokeWidth=0, rowPadding=2, labelOffset=6.5, titlePadding=4))))
L.append(T("Numbers", 1036.4, 858, 8.6))

# ---- WGCNA ----
tx = sx([0, 44], 1270, 1494)
ty = sx([0, 44], 634.3, 858)
L.append(box(1270, 634.3, 1494, 858, fill=tom_colors[0]))
tom = pd.DataFrame([{"x": c, "x2": c + 1, "y": r, "y2": r + 1, "v": int(d)} for r, s in enumerate(tom_rows) for c, d in enumerate(s.replace(" ", ""))])
L.append(alt.Chart(tom).mark_rect().encode(
    x=alt.X("x:Q", scale=tx, axis=None), x2="x2:Q", y=alt.Y("y:Q", scale=ty, axis=None), y2="y2:Q",
    color=alt.Color("v:Q", scale=alt.Scale(domain=list(range(10)), range=tom_colors, interpolate="rgb"), legend=None)))
L.append(alt.Chart(pd.DataFrame({"a": [0, 44]})).mark_line(color="#f5a030", strokeWidth=1, opacity=.75).encode(
    x=alt.X("a:Q", scale=tx, axis=None), y=alt.Y("a:Q", scale=ty, axis=None)))
L.append(vrules([36.7, 43.3], tx, 634.3, 858, color="#f0a030", strokeWidth=1.2, opacity=.7))
L.append(hrules([36.4, 43.4], ty, 1270, 1494, color="#f0a030", strokeWidth=1.2, opacity=.7))
starts = [sum(mod_widths[:i]) for i in range(len(mod_widths))]
mods = pd.DataFrame({"a": starts, "b": [s + w for s, w in zip(starts, mod_widths)], "c": mod_colors})
L.append(alt.Chart(mods).mark_rect().encode(
    x=alt.X("a:Q", scale=sx([0, 673], 1270, 1494), axis=None), x2="b:Q", y=alt.value(622.3 - 8), y2=alt.value(633 - 8), color=alt.Color("c:N", scale=None)))
L.append(alt.Chart(mods).mark_rect().encode(
    y=alt.Y("a:Q", scale=sx([0, 673], 634.3, 858), axis=None), y2="b:Q", x=alt.value(1258.3 - 8), x2=alt.value(1268.7 - 8), color=alt.Color("c:N", scale=None)))
dg = pd.DataFrame({"i": list(range(85)), "a": dg_top, "m": dg_mid, "b": dg_black})
tail = pd.DataFrame({"i": dg_tail_i, "b": dg_tail_end, "a": [60] * len(dg_tail_i)})
links = pd.DataFrame({"x1": dg_link_from, "x2": dg_link_to, "d": dg_link_depth})
ti, td = sx([0, 84], 1270, 1494), sx([16, 240], 545.3, 620)
li, ld = sx([0, 84], 634.3, 858), sx([16, 240], 1204, 1257)
L.append(alt.Chart(tail).mark_rule(color="#9a9a9a", strokeWidth=1).encode(x=alt.X("i:Q", scale=ti, axis=None), y=alt.Y("a:Q", scale=td, axis=None), y2="b:Q"))
L.append(alt.Chart(dg).mark_rule(color="#111111", strokeWidth=1.4).encode(x=alt.X("i:Q", scale=ti, axis=None), y=alt.Y("a:Q", scale=td, axis=None), y2="b:Q"))
L.append(alt.Chart(dg).mark_rule(color="#111111", strokeWidth=2.9).encode(x=alt.X("i:Q", scale=ti, axis=None), y=alt.Y("a:Q", scale=td, axis=None), y2="m:Q"))
L.append(alt.Chart(links).mark_rule(color="#333333", strokeWidth=.6).encode(x=alt.X("x1:Q", scale=ti, axis=None), x2="x2:Q", y=alt.Y("d:Q", scale=td, axis=None)))
L.append(alt.Chart(tail).mark_rule(color="#9a9a9a", strokeWidth=1).encode(y=alt.Y("i:Q", scale=li, axis=None), x=alt.X("a:Q", scale=ld, axis=None), x2="b:Q"))
L.append(alt.Chart(dg).mark_rule(color="#111111", strokeWidth=1.4).encode(y=alt.Y("i:Q", scale=li, axis=None), x=alt.X("a:Q", scale=ld, axis=None), x2="b:Q"))
L.append(alt.Chart(dg).mark_rule(color="#111111", strokeWidth=2.9).encode(y=alt.Y("i:Q", scale=li, axis=None), x=alt.X("a:Q", scale=ld, axis=None), x2="m:Q"))
L.append(alt.Chart(links).mark_rule(color="#333333", strokeWidth=.6).encode(y=alt.Y("x1:Q", scale=li, axis=None), y2="x2:Q", x=alt.X("d:Q", scale=ld, axis=None)))
L.append(T("Network heatmap plot, all genes", 1381.7, 540.3, 3.6, font=SANS, color="#222222", weight="bold"))

# ---- PM scatter ----
px = sx([.6772, .9833], 1552.7, 1855.7)
py = sx([.0417, .8472], 849, 559)
L += [box(1552.7, 559, 1855.7, 849, fill="#ebebeb"),
      vrules([.75,.85,.95], px, 559, 849, color="#f5f5f5", strokeWidth=.5),
      vrules([.7,.8,.9], px, 559, 849, color="#ffffff", strokeWidth=1),
      hrules([.1,.3,.5,.7], py, 1552.7, 1855.7, color="#f5f5f5", strokeWidth=.5),
      hrules([.2,.4,.6,.8], py, 1552.7, 1855.7, color="#ffffff", strokeWidth=1)]
pmd = pd.DataFrame({"x": pm_x, "y": pm_y, "t": pm_names})
L.append(alt.Chart(pmd).mark_circle(size=3, color="#ffffff", opacity=1).encode(
    x=alt.X("x:Q", scale=px, axis=ax_b(849, values=[.7,.8,.9], format=".1f", domain=False, labelFont=SERIF, labelFontSize=3.6, labelColor="#555555", tickColor="#666666", tickSize=1.5, labelPadding=1.5, labelFlush=False)),
    y=alt.Y("y:Q", scale=py, axis=ax_l(1552.7, values=[.2,.4,.6,.8], format=".1f", domain=False, labelFont=SERIF, labelFontSize=3.6, labelColor="#555555", tickColor="#666666", tickSize=1.5, labelPadding=1))))
L.append(alt.Chart(pmd).mark_text(font=SERIF, fontSize=4.8, color="#000000", dx=-7.3, dy=-3).encode(
    x=alt.X("x:Q", scale=px, axis=None), y=alt.Y("y:Q", scale=py, axis=None), text="t:N"))
L += [T("Module membership vs. protein", 1552.7, 546.3, 5.6, align="left", weight="bold", color="#111111"),
      T("significance cor=0.78, p=2.1e\u221208", 1552.7, 553.3, 5.6, align="left", weight="bold", color="#111111"),
      T("Module Membership in lightcyan1 module", 1704, 858, 4.8, color="#333333"),
      T("protein significance for lightcyan1 module", 1541, 703, 4.4, color="#333333", angle=270)]

# ---- captions ----
for cap, cx, cy in [("\u706b\u5c71\u56fe", 301.7, 462.5), ("\u805a\u7c7b\u70ed\u56fe", 791.7, 459), ("\u4e9a\u7ec6\u80de\u5b9a\u4f4d\u6bd4\u4f8b\u997c\u56fe", 1199, 459), ("PSEA\u5206\u6790", 1682.7, 461.8),
                    ("KEGG\u901a\u8def\u5206\u6790", 330.4, 912.2), ("GO\u6ce8\u91ca", 869.3, 914.5), ("\u86cb\u767d\u5171\u8868\u8fbe\u7f51\u7edc\u6a21\u5757\u5212\u5206\u56fe", 1350, 908), ("PM\u6563\u70b9\u56fe", 1714, 913)]:
    L.append(T(cap, cx, cy, 23.5, font=CJK, color="#333333"))

chart = alt.layer(*L).resolve_scale(x="independent", y="independent", color="independent").properties(
    width=W, height=H, padding=0, autosize=alt.AutoSizeParams(type="none")
).configure_view(stroke=None).configure_axis(grid=False)
chart.save("out.html", embed_options={"renderer": "svg", "actions": False})
